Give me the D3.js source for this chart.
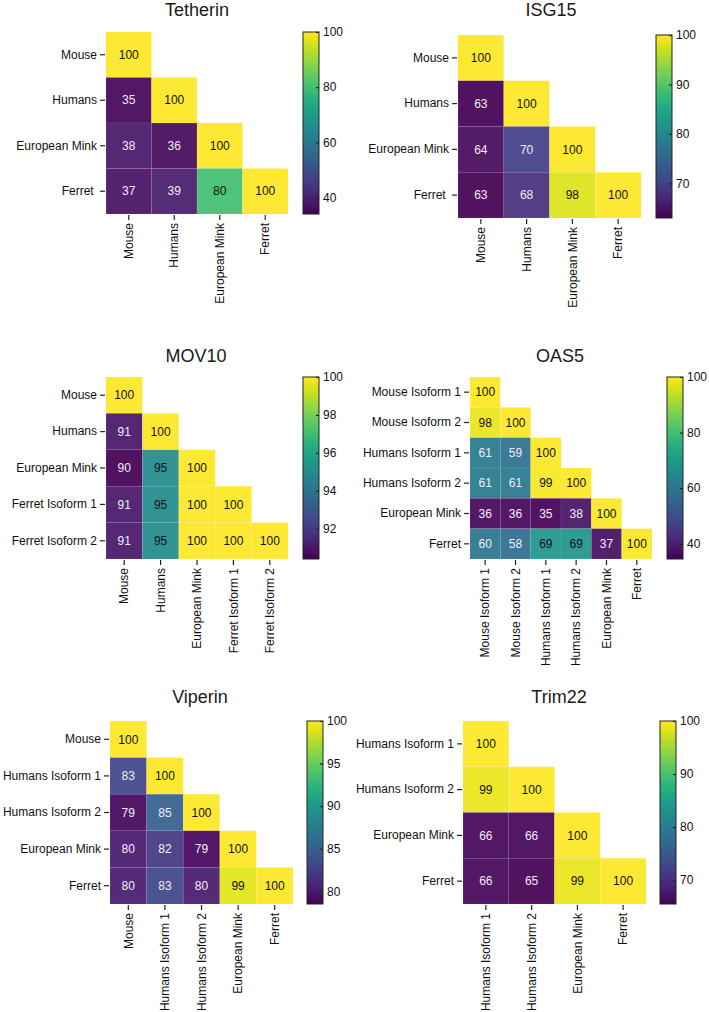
<!DOCTYPE html>
<html>
<head>
<meta charset="utf-8">
<script src="https://cdn.jsdelivr.net/npm/d3@7"></script>
<style>
  html, body { margin: 0; padding: 0; background: #fff; }
  svg { display: block; }
  svg text { font-family: "Liberation Sans", Arial, Helvetica, sans-serif; font-weight: 400; white-space: pre; }
</style>
</head>
<body>
<svg id="chart" width="709" height="1012"></svg>
<script>
// ---------- DATA ----------
const tetherinLabels = ["Mouse", "Humans", "European Mink", "Ferret "];
const tetherinValues = [[100], [35, 100], [38, 36, 100], [37, 39, 80, 100]];
const tetherinDomain = [34, 100];
const tetherinTicks = [40, 60, 80, 100];

const isg15Labels = ["Mouse", "Humans", "European Mink", "Ferret "];
const isg15Values = [[100], [63, 100], [64, 70, 100], [63, 68, 98, 100]];
const isg15Domain = [63, 100];
const isg15Ticks = [70, 80, 90, 100];

const mov10Labels = ["Mouse", "Humans", "European Mink", "Ferret Isoform 1", "Ferret Isoform 2"];
const mov10Values = [[100], [91, 100], [90, 95, 100], [91, 95, 100, 100], [91, 95, 100, 100, 100]];
const mov10Domain = [90.4, 100];
const mov10Ticks = [92, 94, 96, 98, 100];

const oas5Labels = ["Mouse Isoform 1", "Mouse Isoform 2", "Humans Isoform 1", "Humans Isoform 2", "European Mink", "Ferret"];
const oas5Values = [[100], [98, 100], [61, 59, 100], [61, 61, 99, 100], [36, 36, 35, 38, 100], [60, 58, 69, 69, 37, 100]];
const oas5Domain = [34.5, 100];
const oas5Ticks = [40, 60, 80, 100];

const viperinLabels = ["Mouse", "Humans Isoform 1", "Humans Isoform 2", "European Mink", "Ferret"];
const viperinValues = [[100], [83, 100], [79, 85, 100], [80, 82, 79, 100], [80, 83, 80, 99, 100]];
const viperinDomain = [78.5, 100];
const viperinTicks = [80, 85, 90, 95, 100];

const trim22Labels = ["Humans Isoform 1", "Humans Isoform 2", "European Mink", "Ferret"];
const trim22Values = [[100], [99, 100], [66, 66, 100], [66, 65, 99, 100]];
const trim22Domain = [65.5, 100];
const trim22Ticks = [70, 80, 90, 100];

const titles = ["Tetherin", "ISG15", "MOV10", "OAS5", "Viperin", "Trim22"];

// ---------- LAYOUT ----------
const layout = [
  { hx: 106, hy: 32,  hs: 182, cx: 303, tx: 197, ty: 16 },
  { hx: 458, hy: 35,  hs: 183, cx: 656, tx: 551, ty: 16 },
  { hx: 106, hy: 377, hs: 182, cx: 303, tx: 196, ty: 362 },
  { hx: 470, hy: 377, hs: 182, cx: 667, tx: 560, ty: 362 },
  { hx: 110, hy: 721, hs: 183, cx: 307, tx: 200, ty: 703 },
  { hx: 463, hy: 721, hs: 183, cx: 660, tx: 559, ty: 703 }
];

const panels = [
  { labels: tetherinLabels, values: tetherinValues, domain: tetherinDomain, ticks: tetherinTicks },
  { labels: isg15Labels, values: isg15Values, domain: isg15Domain, ticks: isg15Ticks },
  { labels: mov10Labels, values: mov10Values, domain: mov10Domain, ticks: mov10Ticks },
  { labels: oas5Labels, values: oas5Values, domain: oas5Domain, ticks: oas5Ticks },
  { labels: viperinLabels, values: viperinValues, domain: viperinDomain, ticks: viperinTicks },
  { labels: trim22Labels, values: trim22Values, domain: trim22Domain, ticks: trim22Ticks }
];

const svg = d3.select("#chart");
const defs = svg.append("defs");

function styleAxis(a) {
  a.attr("font-family", null).attr("font-size", null);
  a.select(".domain").remove();
  a.selectAll("line").attr("stroke", "#222").attr("stroke-width", 1.2);
  a.selectAll("text").attr("font-size", 12).attr("fill", "#111");
}

panels.forEach((p, i) => {
  const L = layout[i];
  const g = svg.append("g");
  const n = p.labels.length;
  const x = d3.scaleBand().domain(d3.range(n)).range([L.hx, L.hx + L.hs]).padding(0);
  const y = d3.scaleBand().domain(d3.range(n)).range([L.hy, L.hy + L.hs]).padding(0);
  const color = d3.scaleSequential(d3.interpolateViridis).domain(p.domain);
  const norm = d3.scaleLinear().domain(p.domain).clamp(true);

  // Title
  g.append("text")
    .attr("x", L.tx).attr("y", L.ty)
    .attr("text-anchor", "middle")
    .attr("font-size", 18)
    .attr("fill", "#1a1a1a")
    .text(titles[i]);

  // Cells
  const cells = [];
  p.values.forEach((row, r) => row.forEach((v, c) => cells.push({ r, c, v })));

  g.selectAll("rect.cell").data(cells).enter().append("rect")
    .attr("class", "cell")
    .attr("x", d => x(d.c)).attr("y", d => y(d.r))
    .attr("width", x.bandwidth()).attr("height", y.bandwidth())
    .attr("fill", d => color(d.v))
    .attr("fill-opacity", 0.93)
    .attr("stroke", "rgba(255,255,255,0.12)")
    .attr("stroke-width", 0.6);

  g.selectAll("text.val").data(cells).enter().append("text")
    .attr("class", "val")
    .attr("x", d => x(d.c) + x.bandwidth() / 2)
    .attr("y", d => y(d.r) + y.bandwidth() / 2)
    .attr("dy", "0.35em")
    .attr("text-anchor", "middle")
    .attr("font-size", 12)
    .attr("fill", d => norm(d.v) >= 0.45 ? "#111" : "#f2ecf8")
    .text(d => d.v);

  // Y axis
  const yAxis = d3.axisLeft(y).tickSize(5).tickPadding(3).tickFormat(k => p.labels[k]);
  const ya = g.append("g").attr("transform", `translate(${L.hx - 1},0)`).call(yAxis);
  styleAxis(ya);

  // X axis
  const xAxis = d3.axisBottom(x).tickSize(5).tickPadding(3).tickFormat(k => p.labels[k].trim());
  const xa = g.append("g").attr("transform", `translate(0,${L.hy + L.hs + 1})`).call(xAxis);
  styleAxis(xa);
  xa.selectAll("text")
    .attr("transform", "rotate(-90)")
    .attr("text-anchor", "end")
    .attr("x", -8).attr("y", 0).attr("dy", "0.35em");

  // Colorbar
  const cbW = 16;
  const cbScale = d3.scaleLinear().domain(p.domain).range([L.hy + L.hs, L.hy]);
  const gid = "grad" + i;
  const grad = defs.append("linearGradient").attr("id", gid)
    .attr("x1", 0).attr("y1", 1).attr("x2", 0).attr("y2", 0);
  d3.range(0, 1.0001, 0.05).forEach(t => {
    grad.append("stop").attr("offset", t).attr("stop-color", d3.interpolateViridis(t));
  });
  g.append("rect")
    .attr("x", L.cx).attr("y", L.hy)
    .attr("width", cbW).attr("height", L.hs)
    .attr("fill", `url(#${gid})`)
    .attr("stroke", "#222").attr("stroke-width", 1);
  const cbAxis = d3.axisRight(cbScale).tickValues(p.ticks).tickSizeInner(-3).tickSizeOuter(0).tickPadding(4);
  const ca = g.append("g").attr("transform", `translate(${L.cx + cbW},0)`).call(cbAxis);
  styleAxis(ca);
});
</script>
</body>
</html>
